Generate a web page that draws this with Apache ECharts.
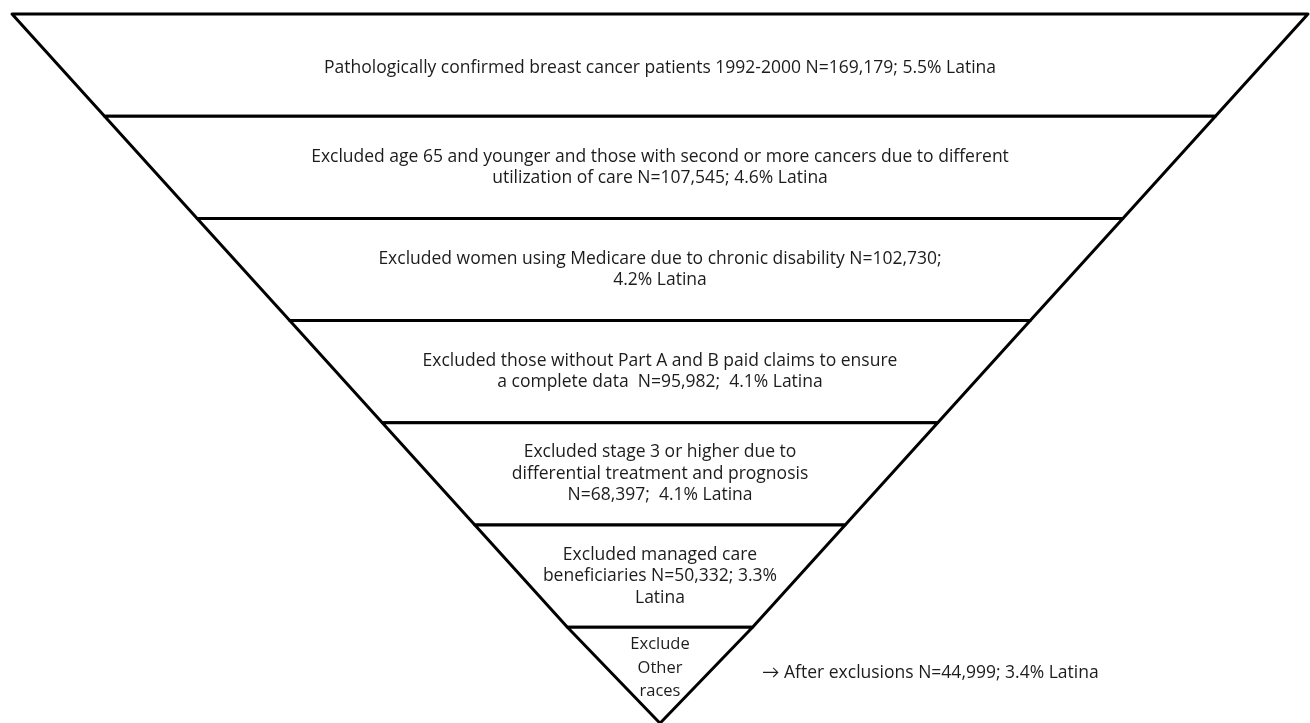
<!DOCTYPE html>
<html>
<head>
<meta charset="utf-8">
<script src="https://cdn.jsdelivr.net/npm/echarts@6/dist/echarts.min.js"></script>
<style>
  html, body { margin: 0; padding: 0; background: #ffffff; }
  #chart { width: 1310px; height: 723px; }
</style>
</head>
<body>
<div id="chart"></div>
<script>
// Step order of the exclusion cascade (top = widest step, 7 steps)
const stepRank = [7, 6, 5, 4, 3, 2, 1];
const stepLabels = [
  'Pathologically confirmed breast cancer patients 1992-2000 N=169,179; 5.5% Latina',
  'Excluded age 65 and younger and those with second or more cancers due to different\nutilization of care N=107,545; 4.6% Latina',
  'Excluded women using Medicare due to chronic disability N=102,730;\n4.2% Latina',
  'Excluded those without Part A and B paid claims to ensure\na complete data  N=95,982;  4.1% Latina',
  'Excluded stage 3 or higher due to\ndifferential treatment and prognosis\nN=68,397;  4.1% Latina',
  'Excluded managed care\nbeneficiaries N=50,332; 3.3%\nLatina',
  'Exclude\nOther\nraces'
];
const stepCounts = [169179, 107545, 102730, 95982, 68397, 50332, null];
const finalNote = '\u2192 After exclusions N=44,999; 3.4% Latina';

const FONT = '"Open Sans", Lato, sans-serif';
const TEXT_COLOR = '#1c1c1c';
const STEP_H = 102.2;

function labelText(i) {
  const lines = stepLabels[i].split('\n').map(s => '{t' + (i === 6 ? 'b' : 'a') + '|' + s + '}');
  if (i === 0) return '{gt|}\n' + lines.join('\n');
  if (i === 6) return lines.join('\n') + '\n{gb|}';
  return lines.join('\n');
}

const chart = echarts.init(document.getElementById('chart'), null, { renderer: 'canvas' });
chart.setOption({
  backgroundColor: '#ffffff',
  animation: false,
  series: [{
    type: 'funnel',
    left: 12,
    top: 14,
    width: 1296,
    height: STEP_H * 6 + 96,
    min: 0,
    max: 7,
    minSize: '0%',
    maxSize: '100%',
    sort: 'none',
    gap: 0,
    funnelAlign: 'center',
    silent: true,
    label: {
      show: true,
      position: 'inside',
      color: TEXT_COLOR,
      fontFamily: FONT,
      fontSize: 17.5,
      lineHeight: 21.5,
      align: 'center',
      formatter: p => labelText(p.dataIndex),
      rich: {
        ta: { color: TEXT_COLOR, fontFamily: FONT, fontSize: 17.5, lineHeight: 21.5 },
        tb: { color: TEXT_COLOR, fontFamily: FONT, fontSize: 16.5, lineHeight: 23.5 },
        gt: { fontSize: 1, lineHeight: 5 },
        gb: { fontSize: 1, lineHeight: 14 }
      }
    },
    labelLine: { show: false },
    itemStyle: { color: '#ffffff', borderColor: '#000000', borderWidth: 3, borderJoin: 'miter' },
    emphasis: { disabled: true },
    data: stepRank.map((v, i) => ({
      value: v,
      name: 'step' + (i + 1),
      count: stepCounts[i],
      itemStyle: { height: i < 6 ? STEP_H : 96 }
    }))
  }],
  graphic: [{
    type: 'text',
    left: 762,
    top: 664,
    style: { text: finalNote, fill: TEXT_COLOR, font: '17.5px ' + FONT }
  }]
});
</script>
</body>
</html>
